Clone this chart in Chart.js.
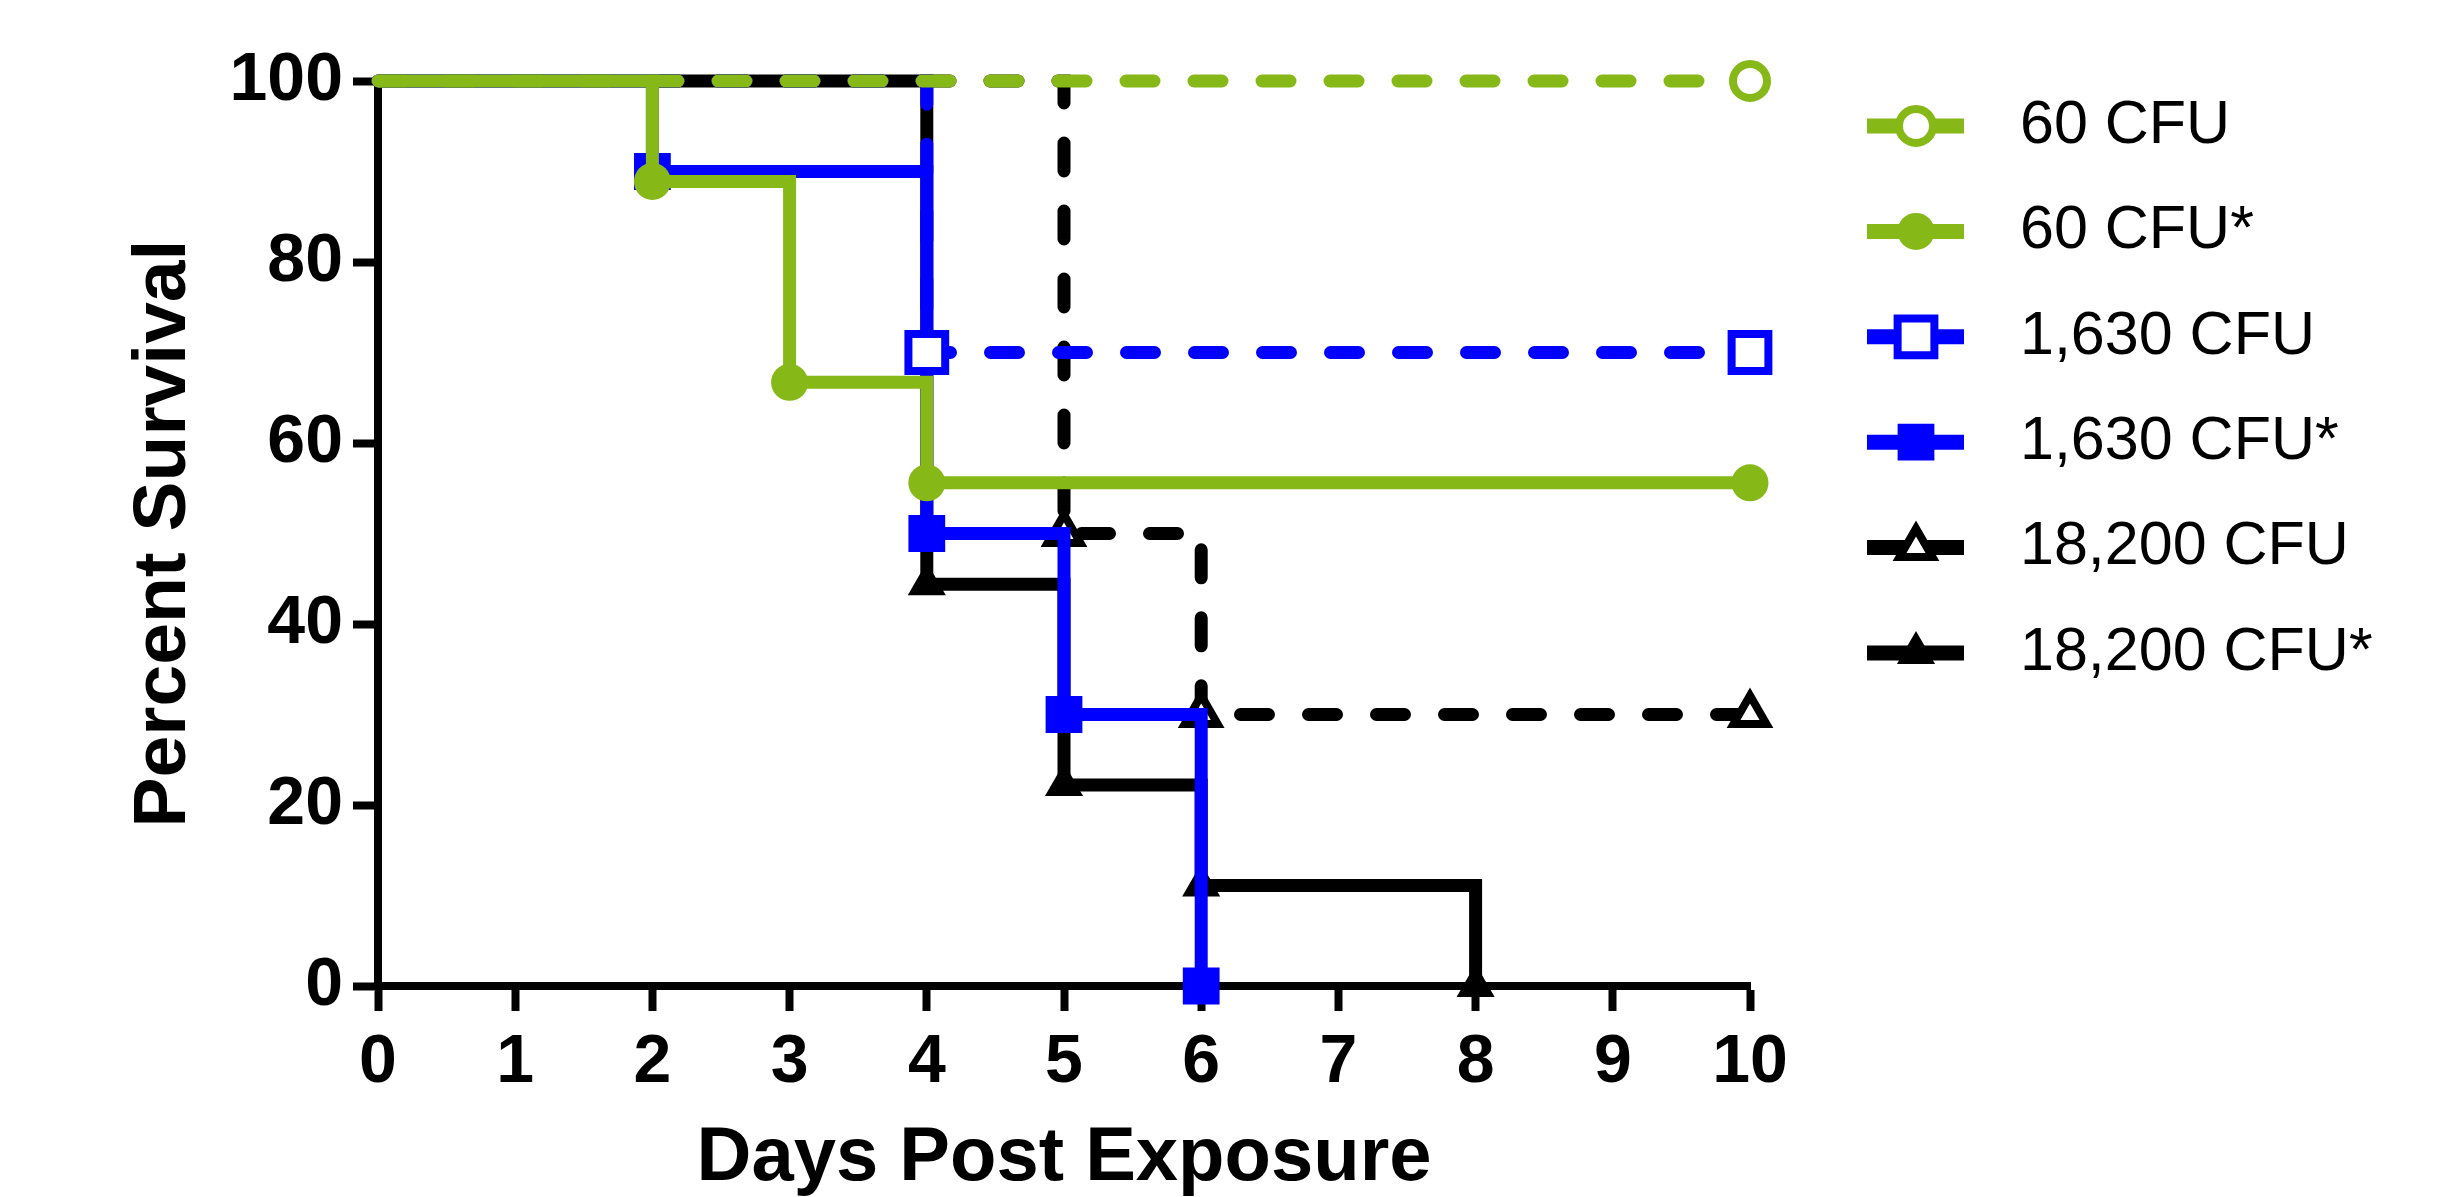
<!DOCTYPE html>
<html>
<head>
<meta charset="utf-8">
<script src="https://cdn.jsdelivr.net/npm/chart.js@4.4.0/dist/chart.umd.min.js"></script>
<style>
  html, body { margin: 0; padding: 0; background: #fff; }
  #wrap { width: 2461px; height: 1197px; }
</style>
</head>
<body>
<div id="wrap"><canvas id="survivalChart"></canvas></div>
<script>
// Kaplan-Meier steps: first point is day 0 at 100 %
const seriesLabels = ['60 CFU', '60 CFU*', '1,630 CFU', '1,630 CFU*', '18,200 CFU', '18,200 CFU*'];

const days60 = [0, 10];
const surv60 = [100, 100];
const days60s = [0, 2, 3, 4, 10];
const surv60s = [100, 88.9, 66.7, 55.6, 55.6];
const days1630 = [0, 4, 10];
const surv1630 = [100, 70, 70];
const days1630s = [0, 2, 4, 5, 6];
const surv1630s = [100, 90, 50, 30, 0];
const days18200 = [0, 5, 6, 10];
const surv18200 = [100, 50, 30, 30];
const days18200s = [0, 4, 5, 6, 8];
const surv18200s = [100, 44.4, 22.2, 11.1, 0];

const xTicks = [0, 1, 2, 3, 4, 5, 6, 7, 8, 9, 10];
const yTicks = [0, 20, 40, 60, 80, 100];

const GREEN = '#86b817';
const BLUE = '#0000ff';
const BLACK = '#000000';
const FONT = '"Liberation Sans", Arial, sans-serif';

const LINE_W = 13;
const DASH = [28, 40];
const OPEN_BORDER = 8;
const RADIUS_OPEN = { circle: 17, rect: 26, triangle: 19 };
const RADIUS_FILLED = { circle: 18.5, rect: 26, triangle: 22 };

function makeSet(label, days, surv, color, dashed, style, filled) {
    const r = filled ? RADIUS_FILLED[style] : RADIUS_OPEN[style];
    return {
        label: label,
        data: days.map((d, i) => ({ x: d, y: surv[i] })),
        borderColor: color,
        borderWidth: LINE_W,
        borderDash: dashed ? DASH : [],
        borderCapStyle: dashed ? 'round' : 'butt',
        borderJoinStyle: 'miter',
        stepped: true,
        fill: false,
        clip: false,
        pointStyle: style,
        markerRadius: r,
        pointRadius: (ctx) => ctx.dataIndex === 0 ? 0 : r,
        pointHoverRadius: (ctx) => ctx.dataIndex === 0 ? 0 : r,
        pointBackgroundColor: filled ? color : '#ffffff',
        pointBorderColor: color,
        pointBorderWidth: filled ? 0 : OPEN_BORDER,
    };
}

const datasets = [
    makeSet(seriesLabels[0], days60, surv60, GREEN, true, 'circle', false),
    makeSet(seriesLabels[1], days60s, surv60s, GREEN, false, 'circle', true),
    makeSet(seriesLabels[2], days1630, surv1630, BLUE, true, 'rect', false),
    makeSet(seriesLabels[3], days1630s, surv1630s, BLUE, false, 'rect', true),
    makeSet(seriesLabels[4], days18200, surv18200, BLACK, true, 'triangle', false),
    makeSet(seriesLabels[5], days18200s, surv18200s, BLACK, false, 'triangle', true),
];

// legend drawn at the right: short solid line with the marker, then the label
const sideLegend = {
    id: 'sideLegend',
    afterDraw(chart) {
        const ctx = chart.ctx;
        const top = 126;
        const step = 105.4;
        chart.data.datasets.forEach((ds, i) => {
            const y = top + i * step;
            ctx.save();
            ctx.strokeStyle = ds.borderColor;
            ctx.lineWidth = 15;
            ctx.lineCap = 'butt';
            ctx.beginPath();
            ctx.moveTo(1867, y);
            ctx.lineTo(1964, y);
            ctx.stroke();

            ctx.fillStyle = ds.pointBackgroundColor;
            ctx.strokeStyle = ds.pointBorderColor;
            ctx.lineWidth = ds.pointBorderWidth;
            Chart.helpers.drawPoint(ctx, {
                pointStyle: ds.pointStyle,
                radius: ds.markerRadius,
                rotation: 0,
                borderWidth: ds.pointBorderWidth
            }, 1916, y);

            ctx.fillStyle = '#000';
            ctx.font = '61px ' + FONT;
            ctx.textBaseline = 'middle';
            ctx.textAlign = 'left';
            ctx.fillText(ds.label, 2020, y);
            ctx.restore();
        });
    }
};

new Chart(document.getElementById('survivalChart'), {
    type: 'line',
    data: { datasets: datasets },
    options: {
        responsive: true,
        maintainAspectRatio: false,
        animation: false,
        events: [],
        layout: {
            padding: { top: 81, right: 711, bottom: 0, left: 0 }
        },
        plugins: {
            legend: { display: false },
            tooltip: { enabled: false }
        },
        scales: {
            x: {
                type: 'linear',
                min: 0,
                max: 10,
                afterBuildTicks: (scale) => { scale.ticks = xTicks.map(v => ({ value: v })); },
                afterFit: (scale) => { scale.height = 1197 - 986; },
                ticks: {
                    color: '#000',
                    font: { family: FONT, size: 68, weight: 'bold', lineHeight: 1 },
                    padding: 18,
                    autoSkip: false,
                    maxRotation: 0
                },
                grid: {
                    drawOnChartArea: false,
                    drawTicks: true,
                    tickLength: 25,
                    tickWidth: 8,
                    tickColor: '#000'
                },
                border: { display: true, color: '#000', width: 8 },
                title: {
                    display: true,
                    text: 'Days Post Exposure',
                    color: '#000',
                    font: { family: FONT, size: 76, weight: 'bold', lineHeight: 1 },
                    padding: { top: 0, bottom: 0 }
                }
            },
            y: {
                type: 'linear',
                min: 0,
                max: 100,
                afterBuildTicks: (scale) => { scale.ticks = yTicks.map(v => ({ value: v })); },
                afterFit: (scale) => { scale.width = 378; },
                ticks: {
                    color: '#000',
                    font: { family: FONT, size: 68, weight: 'bold', lineHeight: 1 },
                    padding: 10
                },
                grid: {
                    drawOnChartArea: false,
                    drawTicks: true,
                    tickLength: 25,
                    tickWidth: 8,
                    tickColor: '#000'
                },
                border: { display: true, color: '#000', width: 8 },
                title: {
                    display: true,
                    text: 'Percent Survival',
                    color: '#000',
                    font: { family: FONT, size: 75, weight: 'bold', lineHeight: 1 },
                    padding: { top: 127, bottom: 0 }
                }
            }
        }
    },
    plugins: [sideLegend]
});
</script>
</body>
</html>
